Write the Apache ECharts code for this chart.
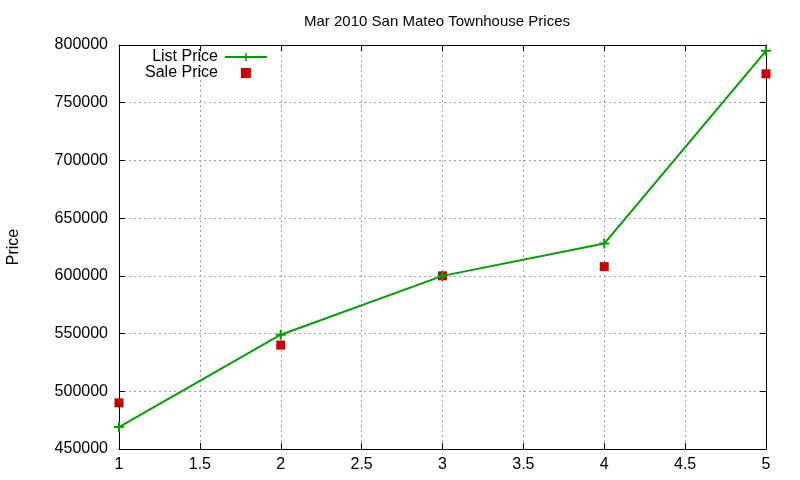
<!DOCTYPE html>
<html lang="en">
<head>
  <meta charset="UTF-8">
  <title>San Mateo Townhouse Prices</title>
  <style type="text/css">
    html, body { margin: 0; padding: 0; background: #fff; }
    #chart { width: 800px; height: 480px; }
  </style>
</head>
<body>
  <div id="chart"></div>
  <script src="https://cdn.jsdelivr.net/npm/echarts@6/dist/echarts.min.js"></script>
  <script type="text/javascript">

    var xValues = [1, 2, 3, 4, 5]
    var listPrice = [469000, 549000, 600000, 628000, 795000]
    var salePrice = [490000, 540000, 600000, 608000, 775000]

    var font = 'Liberation Sans, Arial, sans-serif'
    var plusIcon = 'path://M4,0H6V4H10V6H6V10H4V6H0V4H4Z'
    var squareIcon = 'path://M0,0H10V10H0Z'

    function pairs (xs, ys) {
      return xs.map(function (x, i) {
        return [x, ys[i]]
      })
    }

    var gridLine = { show: true, lineStyle: { color: '#a0a0a0', type: [2, 3], width: 1 } }
    var axisLine = { show: true, onZero: false, lineStyle: { color: '#000', width: 1 } }
    var tick = { show: true, inside: true, length: 6, lineStyle: { color: '#000' } }
    var label = { color: '#000', fontSize: 16, fontFamily: font }

    var myChart = echarts.init(document.getElementById('chart'))
    var option = {
      animation: false,
      title: {
        text: 'Mar 2010 San Mateo Townhouse Prices',
        left: 432,
        textAlign: 'center',
        top: 9,
        textStyle: { color: '#000', fontSize: 15, fontWeight: 'normal', fontFamily: font }
      },
      legend: {
        orient: 'vertical',
        align: 'right',
        left: 140,
        top: 44,
        itemWidth: 42,
        itemHeight: 10,
        itemGap: 0,
        textStyle: { color: '#000', fontSize: 16, lineHeight: 16, fontFamily: font, padding: [0, 2, 0, 0] },
        data: [
          { name: 'List Price' },
          { name: 'Sale Price', icon: squareIcon, itemStyle: { color: '#cc0000', opacity: 1 } }
        ]
      },
      grid: {
        left: 119,
        right: 34,
        top: 45,
        bottom: 31,
        outerBoundsMode: 'none'
      },
      xAxis: [
        {
          type: 'value',
          min: 1,
          max: 5,
          interval: 0.5,
          axisLine: axisLine,
          axisTick: tick,
          axisLabel: Object.assign({ margin: 8 }, label),
          splitLine: gridLine
        },
        {
          type: 'value',
          position: 'top',
          min: 1,
          max: 5,
          interval: 0.5,
          axisLine: axisLine,
          axisTick: tick,
          axisLabel: { show: false },
          splitLine: { show: false }
        }
      ],
      yAxis: [
        {
          type: 'value',
          min: 450000,
          max: 800000,
          interval: 50000,
          name: 'Price',
          nameLocation: 'middle',
          nameGap: 97,
          nameRotate: 90,
          nameTextStyle: { color: '#000', fontSize: 16, fontFamily: font },
          axisLine: axisLine,
          axisTick: tick,
          axisLabel: Object.assign({ margin: 11, formatter: function (v) { return String(v) } }, label),
          splitLine: gridLine
        },
        {
          type: 'value',
          position: 'right',
          min: 450000,
          max: 800000,
          interval: 50000,
          axisLine: axisLine,
          axisTick: tick,
          axisLabel: { show: false },
          splitLine: { show: false }
        }
      ],
      series: [
        {
          name: 'List Price',
          type: 'line',
          data: pairs(xValues, listPrice),
          symbol: plusIcon,
          symbolSize: 10,
          showAllSymbol: true,
          itemStyle: { color: '#00a000' },
          lineStyle: { color: '#00a000', width: 2 },
          z: 3
        },
        {
          name: 'Sale Price',
          type: 'scatter',
          data: pairs(xValues, salePrice),
          symbol: 'rect',
          symbolSize: 9,
          itemStyle: { color: '#cc0000', opacity: 1 },
          z: 2
        }
      ]
    }
    myChart.setOption(option)
  </script>
</body>
</html>
